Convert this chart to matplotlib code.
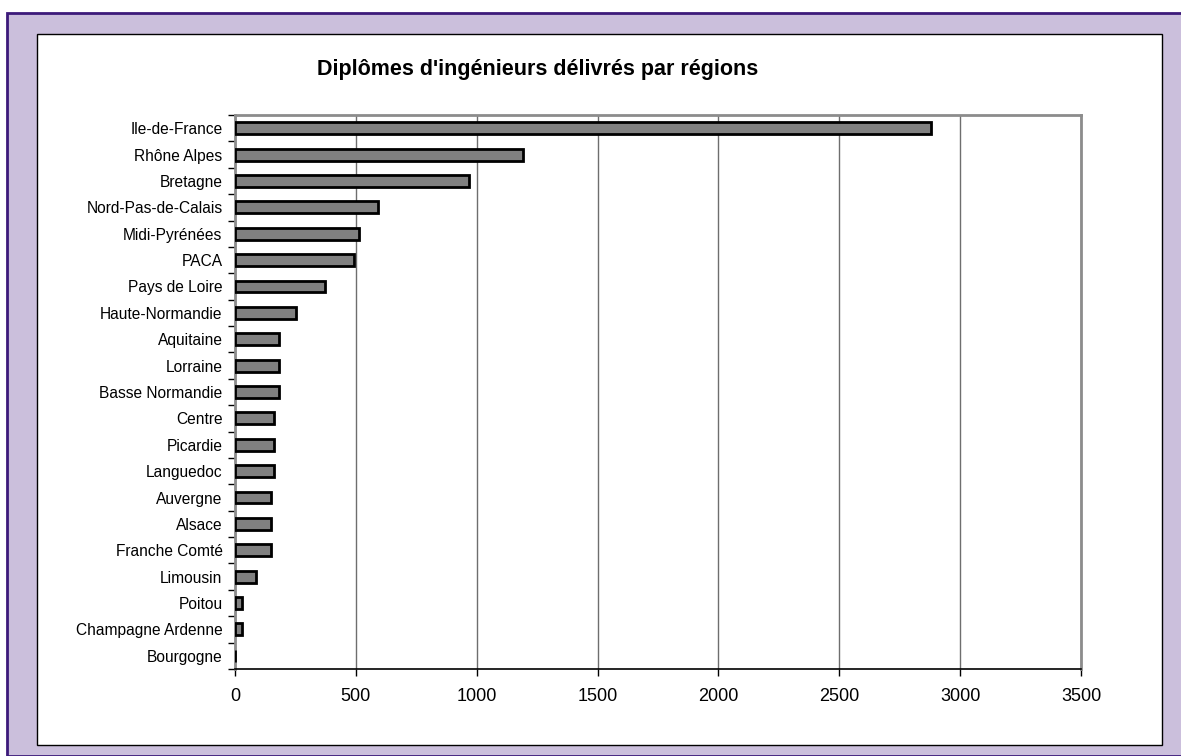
import matplotlib.pyplot as plt
from matplotlib.patches import Rectangle
import numpy as np

plt.rcParams['font.family'] = ['Liberation Sans', 'DejaVu Sans']

# regions, top to bottom
regions = ['Ile-de-France', 'Rhône Alpes', 'Bretagne', 'Nord-Pas-de-Calais',
           'Midi-Pyrénées', 'PACA', 'Pays de Loire', 'Haute-Normandie',
           'Aquitaine', 'Lorraine', 'Basse Normandie', 'Centre', 'Picardie',
           'Languedoc', 'Auvergne', 'Alsace', 'Franche Comté', 'Limousin',
           'Poitou', 'Champagne Ardenne', 'Bourgogne']
diplomes = [2880, 1190, 970, 592, 515, 492, 373, 252,
            183, 183, 183, 161, 161, 161, 151, 151, 151, 86,
            29, 29, 0]
xticks = [0, 500, 1000, 1500, 2000, 2500, 3000, 3500]

W, H = 1181, 756
fig = plt.figure(figsize=(W / 100, H / 100), dpi=100)
fig.patch.set_facecolor('white')

# lavender frame with dark purple edge, white chart box inside
fig.patches.append(Rectangle((7 / W, 0), 1.2, (H - 13) / H, transform=fig.transFigure,
                             facecolor='#cbbfdc', edgecolor='#3c1a7a', linewidth=2, zorder=0))
fig.patches.append(Rectangle((37 / W, (H - 745) / H), (1162 - 37) / W, (745 - 34) / H,
                             transform=fig.transFigure, facecolor='white',
                             edgecolor='black', linewidth=1, zorder=1))

ax = fig.add_axes([235 / W, (H - 669) / H, (1081 - 235) / W, (669 - 115) / H])
ax.set_zorder(2)
y = np.arange(len(regions))
ax.barh(y, diplomes, height=0.45, color='#808080', edgecolor='black', linewidth=2, zorder=3)

ax.set_xlim(0, 3500)
ax.set_ylim(len(regions) - 0.5, -0.5)
ax.set_xticks(xticks)
ax.set_xticklabels([str(v) for v in xticks], fontsize=13)
ax.set_yticks(y)
ax.set_yticklabels(regions, fontsize=11.2)
ax.set_yticks(np.arange(len(regions) + 1) - 0.5, minor=True)
ax.tick_params(axis='y', which='major', length=0, pad=9)
ax.tick_params(axis='y', which='minor', length=5, width=1, color='black')
ax.tick_params(axis='x', length=5, width=1, pad=9, color='black')

ax.grid(axis='x', color='#6e6e6e', linewidth=1, zorder=1)
ax.set_axisbelow(True)
for side in ['top', 'right', 'left']:
    ax.spines[side].set_color('#8c8c8c')
    ax.spines[side].set_linewidth(2)
ax.spines['bottom'].set_color('black')
ax.spines['bottom'].set_linewidth(1.2)

fig.text(538 / W, 1 - 69 / H, "Diplômes d'ingénieurs délivrés par régions",
         ha='center', va='center', fontsize=15.5, fontweight='bold', zorder=3)

fig.savefig('out.png', dpi=100)
